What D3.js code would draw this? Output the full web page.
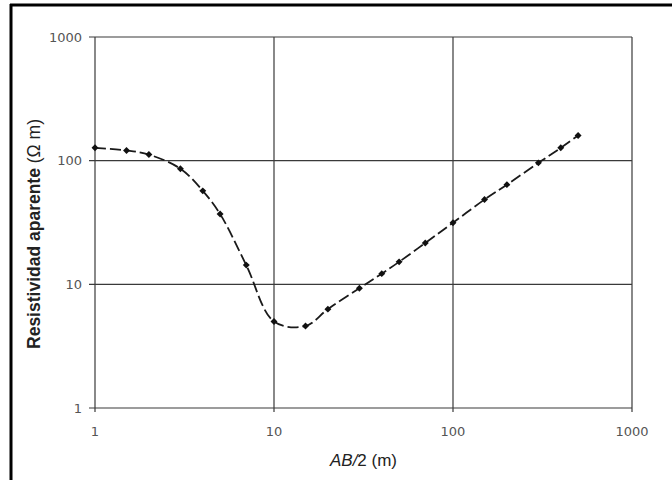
<!DOCTYPE html>
<html>
<head>
<meta charset="utf-8">
<script src="https://cdn.jsdelivr.net/npm/d3@7"></script>
<style>
  body { margin: 0; background: #fff; }
  svg { display: block; }
</style>
</head>
<body>
<svg id="chart" width="672" height="480"></svg>
<script>
// AB/2 spacing (m) and apparent resistivity (ohm m)
let abHalf = [1, 1.5, 2, 3, 4, 5, 7, 10, 15, 20, 30, 40, 50, 70, 100, 150, 200, 300, 400, 500];
let resistivity = [127, 121, 112, 86, 57, 37, 14.3, 5.0, 4.6, 6.3, 9.3, 12.2, 15.2, 21.6, 31.5, 48.5, 64, 96, 127, 160];
let xTicks = [1, 10, 100, 1000];
let yTicks = [1, 10, 100, 1000];

function drawSounding(svgId) {
    let svg = d3.select(svgId);

    let left = 95, right = 632, top = 37, bottom = 408;
    let fontFam = "'DejaVu Sans', 'Liberation Sans', sans-serif";

    // page frame (scan edge)
    svg.append("line")
        .attr("x1", 11).attr("x2", 11).attr("y1", 4).attr("y2", 480)
        .style("stroke", "#000").style("stroke-width", 3);
    svg.append("line")
        .attr("x1", 10).attr("x2", 672).attr("y1", 5).attr("y2", 5)
        .style("stroke", "#000").style("stroke-width", 3);

    let x = d3.scaleLog().domain([1, 1000]).range([left, right]);
    let y = d3.scaleLog().domain([1, 1000]).range([bottom, top]);

    let data = abHalf.map((d, i) => { return {"ab": d, "rho": resistivity[i]}; });

    // grid lines (decades only)
    let grid = svg.append("g");
    grid.selectAll("line.v")
        .data(xTicks)
        .enter().append("line")
        .attr("class", "v")
        .attr("x1", (d) => x(d)).attr("x2", (d) => x(d))
        .attr("y1", top).attr("y2", bottom + 4)
        .style("stroke", "#3a3a3a").style("stroke-width", 1.2);
    grid.selectAll("line.h")
        .data(yTicks)
        .enter().append("line")
        .attr("class", "h")
        .attr("x1", left - 6).attr("x2", right)
        .attr("y1", (d) => y(d)).attr("y2", (d) => y(d))
        .style("stroke", "#3a3a3a").style("stroke-width", 1.2);

    // tick labels
    svg.append("g").selectAll("text")
        .data(yTicks)
        .enter().append("text")
        .attr("x", left - 13)
        .attr("y", (d) => y(d) + 4.5)
        .text((d) => d)
        .style("font-family", fontFam)
        .style("font-size", 13)
        .style("fill", "#555")
        .style("text-anchor", "end");
    svg.append("g").selectAll("text")
        .data(xTicks)
        .enter().append("text")
        .attr("x", (d) => x(d))
        .attr("y", bottom + 28)
        .text((d) => d)
        .style("font-family", fontFam)
        .style("font-size", 13)
        .style("fill", "#555")
        .style("text-anchor", "middle");

    // axis titles
    let xTitle = svg.append("text")
        .attr("x", (left + right) / 2)
        .attr("y", 466)
        .style("font-family", "'Liberation Sans', Arial, sans-serif")
        .style("font-size", 17)
        .style("fill", "#222")
        .style("text-anchor", "middle");
    xTitle.append("tspan").text("AB/").style("font-style", "italic");
    xTitle.append("tspan").text("2 (m)");

    let yTitle = svg.append("text")
        .attr("transform", "translate(40," + 234 + ")rotate(-90)")
        .style("font-family", "'Liberation Sans', Arial, sans-serif")
        .style("font-size", 17.5)
        .style("fill", "#222")
        .style("text-anchor", "middle");
    yTitle.append("tspan").text("Resistividad aparente ").style("font-weight", "bold");
    yTitle.append("tspan").text("(Ω m)");

    // sounding curve
    let line = d3.line()
        .x((d) => x(d.ab))
        .y((d) => y(d.rho))
        .curve(d3.curveCatmullRom.alpha(0.5));
    svg.append("path")
        .datum(data)
        .attr("d", line)
        .style("fill", "none")
        .style("stroke", "#1a1a1a")
        .style("stroke-width", 1.8)
        .style("stroke-dasharray", "11,4");

    svg.append("g").selectAll("path")
        .data(data)
        .enter().append("path")
        .attr("d", d3.symbol().type(d3.symbolSquare).size(24))
        .attr("transform", (d) => "translate(" + x(d.ab) + "," + y(d.rho) + ")rotate(45)")
        .style("fill", "#111");
}

drawSounding("#chart");
</script>
</body>
</html>
